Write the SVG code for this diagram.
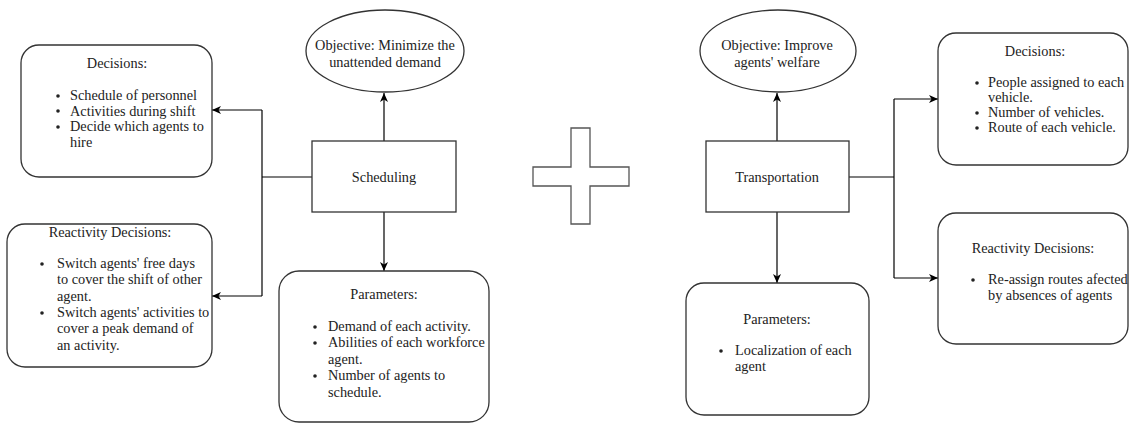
<svg xmlns="http://www.w3.org/2000/svg" width="1130" height="425" viewBox="0 0 1130 425">
<style>
.box{fill:#fff;stroke:#333;stroke-width:1.3}
.cross{fill:#fff;stroke:#555;stroke-width:1.3}
.t{font-family:'Liberation Serif','Times New Roman',Tinos,'DejaVu Serif',serif;font-size:14.3px;fill:#222}
.c{text-anchor:middle}
.con{fill:none;stroke:#000;stroke-width:1.2}
</style>
<defs>
<marker id="arr" markerWidth="10" markerHeight="8" refX="9" refY="4" orient="auto" markerUnits="userSpaceOnUse">
<path d="M0,0 L9,4 L0,8 L2.5,4 Z" fill="#000"/>
</marker>
</defs>
<rect width="1130" height="425" fill="#fff"/>

<g id="connectors">
<path class="con" d="M312,177 H262"/>
<path class="con" d="M262,296 V110"/>
<path class="con" d="M262,110 H212" marker-end="url(#arr)"/>
<path class="con" d="M262,296 H212" marker-end="url(#arr)"/>
<path class="con" d="M384,141 V93" marker-end="url(#arr)"/>
<path class="con" d="M384,212 V271" marker-end="url(#arr)"/>
<path class="con" d="M849,177 H894"/>
<path class="con" d="M894,99 V278"/>
<path class="con" d="M894,99 H938" marker-end="url(#arr)"/>
<path class="con" d="M894,278 H938" marker-end="url(#arr)"/>
<path class="con" d="M777,141 V93" marker-end="url(#arr)"/>
<path class="con" d="M777,212 V283" marker-end="url(#arr)"/>
</g>

<g id="decisions-left">
<rect class="box" x="21" y="45" width="191" height="132" rx="18"/>
<text class="t c" x="117" y="68">Decisions:</text>
<circle cx="58" cy="96" r="1.8" fill="#222"/>
<circle cx="58" cy="111" r="1.8" fill="#222"/>
<circle cx="58" cy="127" r="1.8" fill="#222"/>
<text class="t" x="70" y="100">Schedule of personnel</text>
<text class="t" x="70" y="115.5">Activities during shift</text>
<text class="t" x="70" y="131">Decide which agents to</text>
<text class="t" x="70" y="146.5">hire</text>
</g>

<g id="reactivity-left">
<rect class="box" x="7" y="224" width="205" height="143" rx="18"/>
<text class="t c" x="110" y="237">Reactivity Decisions:</text>
<circle cx="42" cy="264" r="1.8" fill="#222"/>
<circle cx="42" cy="313" r="1.8" fill="#222"/>
<text class="t" x="57" y="268">Switch agents' free days</text>
<text class="t" x="57" y="284">to cover the shift of other</text>
<text class="t" x="57" y="300.5">agent.</text>
<text class="t" x="57" y="317">Switch agents' activities to</text>
<text class="t" x="57" y="333">cover a peak demand of</text>
<text class="t" x="57" y="349.5">an activity.</text>
</g>

<g id="objective-left">
<ellipse class="box" cx="385" cy="51" rx="79" ry="41"/>
<text class="t c" x="385" y="50">Objective: Minimize the</text>
<text class="t c" x="385" y="67">unattended demand</text>
</g>

<g id="scheduling">
<rect class="box" x="312" y="141" width="144" height="71"/>
<text class="t c" x="384" y="182">Scheduling</text>
</g>

<g id="parameters-left">
<rect class="box" x="279" y="271" width="210" height="151" rx="20"/>
<text class="t c" x="384" y="299">Parameters:</text>
<circle cx="315" cy="327" r="1.8" fill="#222"/>
<circle cx="315" cy="343" r="1.8" fill="#222"/>
<circle cx="315" cy="376" r="1.8" fill="#222"/>
<text class="t" x="328" y="331">Demand of each activity.</text>
<text class="t" x="328" y="347">Abilities of each workforce</text>
<text class="t" x="328" y="363.5">agent.</text>
<text class="t" x="328" y="380">Number of agents to</text>
<text class="t" x="328" y="396.5">schedule.</text>
</g>

<g id="plus">
<polygon class="cross" points="571,128 590,128 590,167 629,167 629,186 590,186 590,224 571,224 571,186 533,186 533,167 571,167"/>
</g>

<g id="objective-right">
<ellipse class="box" cx="778" cy="51" rx="78" ry="41"/>
<text class="t c" x="777" y="50">Objective: Improve</text>
<text class="t c" x="777" y="66.5">agents' welfare</text>
</g>

<g id="transportation">
<rect class="box" x="706" y="141" width="143" height="71"/>
<text class="t c" x="777" y="182">Transportation</text>
</g>

<g id="parameters-right">
<rect class="box" x="686" y="283" width="183" height="132" rx="18"/>
<text class="t c" x="777" y="324">Parameters:</text>
<circle cx="721" cy="351" r="1.8" fill="#222"/>
<text class="t" x="735" y="355">Localization of each</text>
<text class="t" x="735" y="371">agent</text>
</g>

<g id="decisions-right">
<rect class="box" x="938" y="33" width="190" height="132" rx="18"/>
<text class="t c" x="1035" y="56">Decisions:</text>
<circle cx="977" cy="83" r="1.8" fill="#222"/>
<circle cx="977" cy="113" r="1.8" fill="#222"/>
<circle cx="977" cy="128" r="1.8" fill="#222"/>
<text class="t" x="988" y="87">People assigned to each</text>
<text class="t" x="988" y="102">vehicle.</text>
<text class="t" x="988" y="117">Number of vehicles.</text>
<text class="t" x="988" y="132">Route of each vehicle.</text>
</g>

<g id="reactivity-right">
<rect class="box" x="938" y="213" width="190" height="131" rx="18"/>
<text class="t c" x="1033" y="253">Reactivity Decisions:</text>
<circle cx="973" cy="280" r="1.8" fill="#222"/>
<text class="t" x="988" y="284">Re-assign routes afected</text>
<text class="t" x="988" y="300">by absences of agents</text>
</g>
</svg>
